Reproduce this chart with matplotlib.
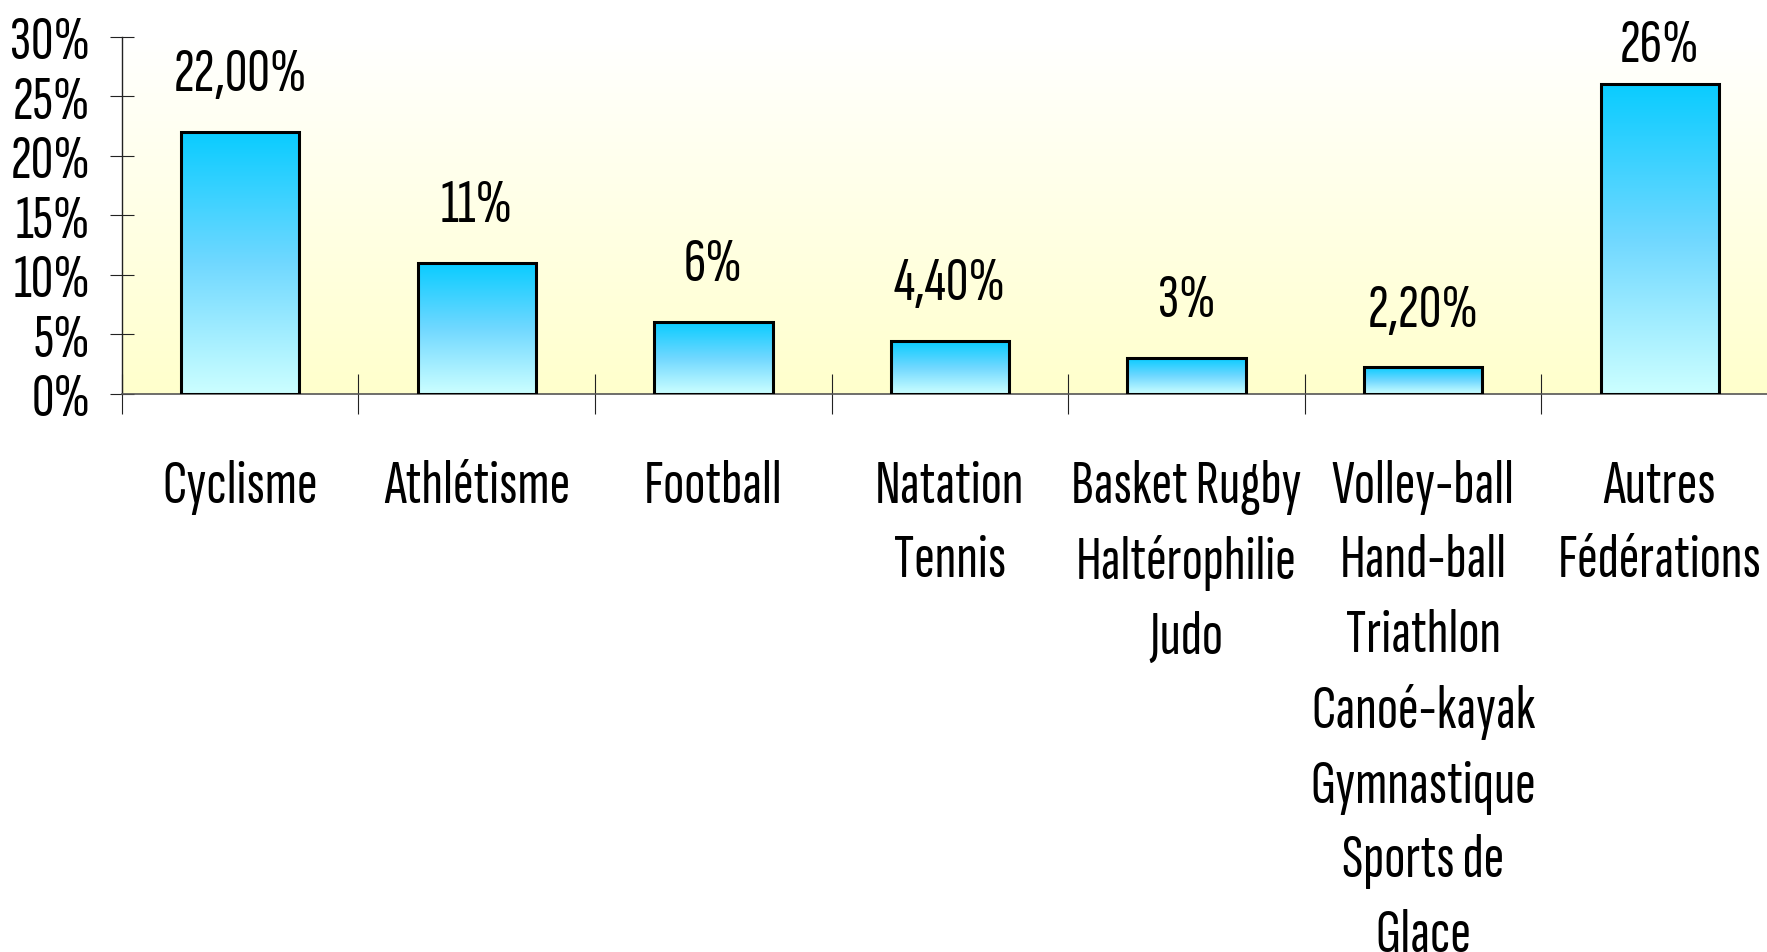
import numpy as np
import matplotlib
matplotlib.use('Agg')
import matplotlib.pyplot as plt
from matplotlib.colors import LinearSegmentedColormap

# données
categories = ['Cyclisme', 'Athlétisme', 'Football', 'Natation\nTennis',
              'Basket Rugby\nHaltérophilie\nJudo',
              'Volley-ball\nHand-ball\nTriathlon\nCanoé-kayak\nGymnastique\nSports de\nGlace',
              'Autres\nFédérations']
values = [22, 11, 6, 4.4, 3, 2.2, 26]
value_labels = ['22,00%', '11%', '6%', '4,40%', '3%', '2,20%', '26%']
yticks = [0, 5, 10, 15, 20, 25, 30]

plt.rcParams['font.family'] = ['Sofia Sans Extra Condensed', 'Liberation Sans', 'DejaVu Sans']
fs = 45

fig = plt.figure(figsize=(17.67, 9.53), dpi=100)
ax = fig.add_axes([0.0690, 0.5860, 0.9372, 0.3744])

x = np.arange(len(categories))
ax.set_xlim(-0.5, len(categories) - 0.5)
ax.set_ylim(0, 30)

# fond dégradé blanc -> jaune pâle
bg = LinearSegmentedColormap.from_list('bg', ['#FFFFCC', '#FFFFFF'])
grad = np.linspace(0, 1, 256).reshape(-1, 1)
ax.imshow(grad, extent=[-0.5, len(categories) - 0.5, 0, 30], origin='lower',
          aspect='auto', cmap=bg, zorder=0)

# barres avec dégradé bleu
barcm = LinearSegmentedColormap.from_list('bar', ['#CCFFFF', '#70D8FF', '#0ACCFF'])
bars = ax.bar(x, values, width=0.5, facecolor='none', edgecolor='black',
              linewidth=2.2, zorder=3)
for b in bars:
    im = ax.imshow(grad, extent=[b.get_x(), b.get_x() + b.get_width(), 0, b.get_height()],
                   origin='lower', aspect='auto', cmap=barcm, zorder=2)
    im.set_clip_path(b)

ax.set_xlim(-0.5, len(categories) - 0.5)
ax.set_ylim(0, 30)

for xi, v, lab in zip(x, values, value_labels):
    off = 21.5 if v < 24 else 8
    ax.annotate(lab, (xi, v), xytext=(0, off), textcoords='offset points',
                ha='center', va='bottom', fontsize=fs, color='black')

# axes
for s in ['top', 'right']:
    ax.spines[s].set_visible(False)
ax.spines['left'].set_color('#222222')
ax.spines['left'].set_linewidth(1)
ax.spines['bottom'].set_color('#555555')
ax.spines['bottom'].set_linewidth(1.2)

ax.set_yticks(yticks)
ax.set_yticklabels([f'{t}%' for t in yticks])
ax.tick_params(axis='y', direction='inout', length=17.3, width=0.8,
               color='#222222', labelsize=fs, pad=14)

ax.set_xticks(x)
ax.set_xticklabels(categories, linespacing=1.455)
ax.set_xticks(np.arange(len(categories)) - 0.5, minor=True)
ax.tick_params(axis='x', which='major', length=0, labelsize=fs, pad=47)
ax.tick_params(axis='x', which='minor', direction='inout', length=28.8,
               width=0.8, color='#222222')

fig.savefig('out.png', dpi=100)
